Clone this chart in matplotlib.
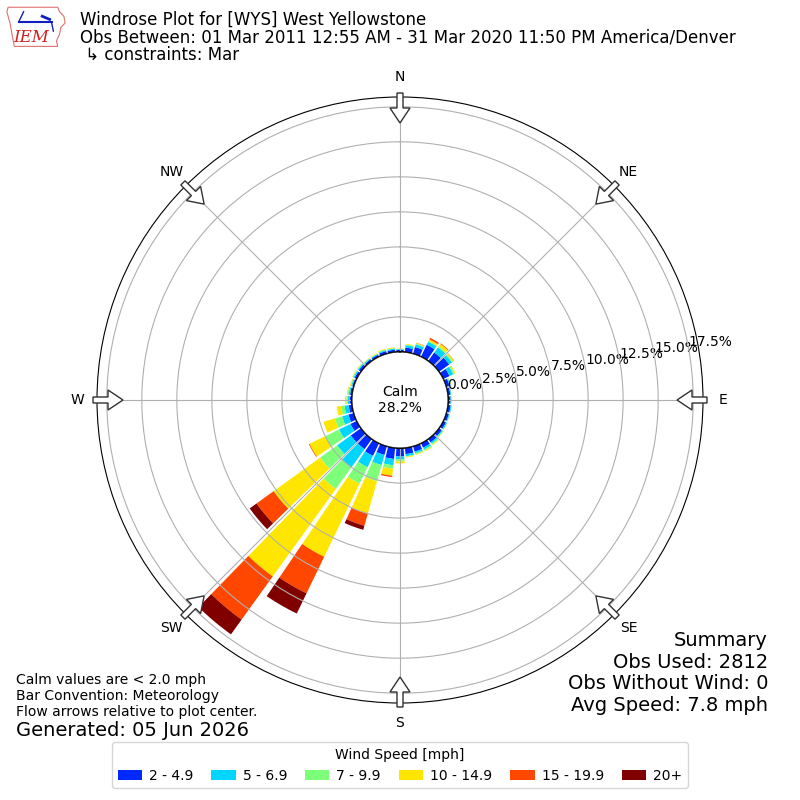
import numpy as np
import matplotlib
matplotlib.use("Agg")
import matplotlib.pyplot as plt
from matplotlib.patches import Polygon, Circle

# direction bins (degrees, meteorological) and cumulative percent per speed bin
directions = np.arange(0, 360, 10)
speed_labels = ["2 - 4.9", "5 - 6.9", "7 - 9.9", "10 - 14.9", "15 - 19.9", "20+"]

# cumulative %, one row per direction
cum = [
    [0.15, 0.20, 0.22, 0.25, 0.25, 0.25],   # 0
    [0.33, 0.50, 0.55, 0.60, 0.60, 0.60],   # 10
    [0.50, 0.70, 0.75, 0.80, 0.82, 0.82],   # 20
    [0.95, 1.20, 1.25, 1.38, 1.50, 1.50],   # 30
    [0.75, 1.20, 1.30, 1.50, 1.55, 1.55],   # 40
    [0.90, 1.15, 1.25, 1.33, 1.35, 1.35],   # 50
    [0.50, 0.80, 0.90, 0.97, 0.97, 0.97],   # 60
    [0.25, 0.32, 0.36, 0.38, 0.38, 0.38],   # 70
    [0.18, 0.24, 0.26, 0.27, 0.27, 0.27],   # 80
    [0.18, 0.23, 0.25, 0.26, 0.26, 0.26],   # 90
    [0.20, 0.26, 0.28, 0.30, 0.30, 0.30],   # 100
    [0.20, 0.26, 0.29, 0.30, 0.30, 0.30],   # 110
    [0.22, 0.30, 0.33, 0.35, 0.35, 0.35],   # 120
    [0.25, 0.33, 0.38, 0.40, 0.40, 0.40],   # 130
    [0.30, 0.42, 0.50, 0.55, 0.55, 0.55],   # 140
    [0.35, 0.50, 0.60, 0.65, 0.65, 0.65],   # 150
    [0.40, 0.52, 0.60, 0.65, 0.65, 0.65],   # 160
    [0.45, 0.60, 0.65, 0.70, 0.70, 0.70],   # 170
    [0.60, 0.80, 0.95, 1.10, 1.10, 1.10],   # 180
    [0.80, 1.25, 1.50, 2.00, 2.10, 2.10],   # 190
    [0.65, 1.40, 2.60, 5.00, 5.90, 6.20],   # 200
    [1.00, 1.90, 3.20, 9.00, 11.90, 13.50], # 210
    [0.90, 2.50, 4.40, 12.10, 15.90, 17.20],# 220
    [0.90, 2.10, 3.60, 7.70, 9.20, 9.80],   # 230
    [0.50, 1.40, 2.50, 3.75, 3.80, 3.80],   # 240
    [0.40, 0.86, 1.40, 2.25, 2.25, 2.25],   # 250
    [0.25, 0.55, 0.80, 1.10, 1.10, 1.10],   # 260
    [0.15, 0.30, 0.40, 0.50, 0.50, 0.50],   # 270
    [0.15, 0.25, 0.32, 0.38, 0.38, 0.38],   # 280
    [0.12, 0.20, 0.25, 0.30, 0.30, 0.30],   # 290
    [0.18, 0.26, 0.32, 0.36, 0.36, 0.36],   # 300
    [0.20, 0.28, 0.33, 0.36, 0.36, 0.36],   # 310
    [0.16, 0.23, 0.27, 0.30, 0.30, 0.30],   # 320
    [0.16, 0.22, 0.26, 0.30, 0.30, 0.30],   # 330
    [0.20, 0.28, 0.33, 0.38, 0.38, 0.38],   # 340
    [0.18, 0.26, 0.30, 0.35, 0.35, 0.35],   # 350
]
calm_pct = 28.2
rticks = [0, 2.5, 5.0, 7.5, 10.0, 12.5, 15.0, 17.5]
compass = ["N", "NE", "E", "SE", "S", "SW", "W", "NW"]

cum = np.array(cum)
values = np.diff(np.hstack([np.zeros((len(cum), 1)), cum]), axis=1)
colors = plt.get_cmap("jet")(np.linspace(0, 1, 7)[1:])

fig = plt.figure(figsize=(8, 8), dpi=100)
ax = fig.add_axes([97 / 800, 97 / 800, 606 / 800, 606 / 800], projection="polar")
ax.set_theta_zero_location("N")
ax.set_theta_direction(-1)

rmax = 18.2
rorig = 3.43
ax.set_rorigin(-rorig)
ax.set_ylim(0, rmax)

theta = np.deg2rad(directions)
width = np.deg2rad(8.4)
bottom = np.zeros(len(directions))
for i in range(len(speed_labels)):
    ax.bar(theta, values[:, i], width=width, bottom=bottom, color=colors[i],
           label=speed_labels[i], linewidth=0)
    bottom += values[:, i]

ax.set_yticks(rticks)
ax.set_yticklabels(["%.1f%%" % v for v in rticks], fontsize=10)
ax.set_rlabel_position(80)
ax.set_xticks(np.deg2rad(np.arange(0, 360, 45)))
ax.set_xticklabels([])
ax.grid(True, color="#b0b0b0", lw=0.8)

# calm circle
crad = 0.5 * rorig / (rmax + rorig)
ax.add_patch(Circle((0.5, 0.5), crad, transform=ax.transAxes, facecolor="white",
                    edgecolor="black", lw=1.2, zorder=3))
ax.text(0.5, 0.5, "Calm\n%.1f%%" % calm_pct, transform=ax.transAxes,
        ha="center", va="center", fontsize=10, zorder=4)

# compass arrows and labels
px = 0.5 / 303.0
for k, lab in enumerate(compass):
    b = np.deg2rad(k * 45)
    u = np.array([np.sin(b), np.cos(b)])
    p = np.array([np.cos(b), -np.sin(b)])
    pts = [(307, -3), (307, 3), (292, 3), (292, 10), (277, 0), (292, -10), (292, -3)]
    poly = [0.5 + (d * u + w * p) * px for d, w in pts]
    ax.add_patch(Polygon(poly, closed=True, transform=ax.transAxes, facecolor="white",
                         edgecolor="#333333", lw=1.0, clip_on=False, zorder=5))
    lx, ly = 0.5 + 323 * px * u
    ax.text(lx, ly, lab, transform=ax.transAxes, ha="center", va="center", fontsize=10)

# header
fig.text(80 / 800, 1 - 20 / 800, "Windrose Plot for [WYS] West Yellowstone",
         fontsize=12, va="center")
fig.text(80 / 800, 1 - 38 / 800,
         "Obs Between: 01 Mar 2011 12:55 AM - 31 Mar 2020 11:50 PM America/Denver",
         fontsize=12, va="center")
fig.text(80 / 800, 1 - 55 / 800, " \u21b3 constraints: Mar", fontsize=12, va="center")

# logo
lax = fig.add_axes([5 / 800, 1 - 50 / 800, 62 / 800, 45 / 800])
lax.axis("off")
lax.set_xlim(0, 1)
lax.set_ylim(0, 1)
iowa = [(0.05, 0.95), (0.85, 0.95), (0.88, 0.85), (0.95, 0.75), (0.97, 0.6),
        (0.9, 0.5), (0.88, 0.35), (0.83, 0.2), (0.85, 0.08), (0.15, 0.08),
        (0.12, 0.3), (0.08, 0.6), (0.03, 0.85)]
lax.add_patch(Polygon(iowa, closed=True, facecolor="white", edgecolor="#e07070", lw=0.8))
lax.plot([0.22, 0.75], [0.62, 0.62], color="#1020c0", lw=1.5)
lax.plot([0.22, 0.3], [0.62, 0.85], color="#1020c0", lw=1)
lax.plot([0.6, 0.72], [0.75, 0.68], color="#1020c0", lw=2)
lax.plot([0.75, 0.78], [0.62, 0.42], color="#1020c0", lw=1)
lax.text(0.42, 0.27, "IEM", color="#d02020", fontsize=12, style="italic",
         family="DejaVu Serif", ha="center", va="center")

# footer notes
fig.text(16 / 800, 1 - 680 / 800, "Calm values are < 2.0 mph", fontsize=10, va="center")
fig.text(16 / 800, 1 - 696 / 800, "Bar Convention: Meteorology", fontsize=10, va="center")
fig.text(16 / 800, 1 - 712 / 800, "Flow arrows relative to plot center.", fontsize=10,
         va="center")
fig.text(16 / 800, 1 - 730 / 800, "Generated: 05 Jun 2026", fontsize=14, va="center")

fig.text(768 / 800, 1 - 673 / 800,
         "Summary\nObs Used: 2812\nObs Without Wind: 0\nAvg Speed: 7.8 mph",
         fontsize=14, ha="right", va="center", linespacing=1.17)

fig.legend(*ax.get_legend_handles_labels(), loc="lower center", ncol=6,
           bbox_to_anchor=(0.5, 0.006), title="Wind Speed [mph]", fontsize=10,
           title_fontsize=10, handlelength=1.75, handletextpad=0.5,
           columnspacing=1.3)

fig.savefig("out.png")
